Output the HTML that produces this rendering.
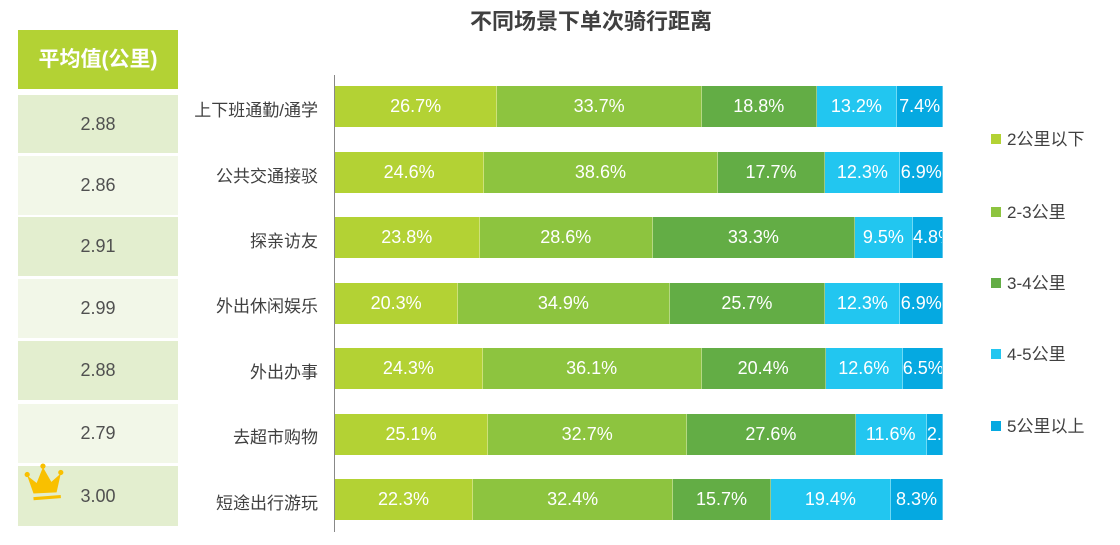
<!DOCTYPE html>
<html><head><meta charset="utf-8"><style>
body{margin:0;width:1120px;height:545px;background:#fff;position:relative;font-family:"Liberation Sans","Noto Sans CJK SC",sans-serif;overflow:hidden}
.t{position:absolute;left:0;width:1120px;top:4px;text-align:center;font-size:22px;font-weight:bold;color:#404040;padding-left:62px;box-sizing:border-box}
.h{position:absolute;left:18px;top:30px;width:160px;height:59px;background:#b3d234;color:#fff;font-weight:bold;font-size:21px;line-height:59px;text-align:center}
.c{position:absolute;left:18px;width:160px;text-align:center;font-size:18px;color:#505050}
.lab{position:absolute;right:802px;font-size:17px;color:#404040;white-space:nowrap}
.bar{position:absolute;left:335px;width:608px;height:41px;display:flex}
.bar div{overflow:hidden;white-space:nowrap;text-align:center;color:#fff;font-size:18px;line-height:41px;border-right:1px solid rgba(255,255,255,.35);box-sizing:border-box}
.a{background:#b3d234}.b{background:#8dc43f}.d{background:#63ad45}.e{background:#22c6f0}.f{background:#05a9e1}
.ax{position:absolute;left:334px;top:75px;width:1px;height:457px;background:#888}
.lg{position:absolute;left:991px;font-size:17px;color:#404040;white-space:nowrap}
.lg i{display:inline-block;width:10px;height:10px;margin-right:6px;vertical-align:1px}
</style></head><body>
<div class="t">不同场景下单次骑行距离</div>
<div class="h">平均值(公里)</div>
<div class="c" style="top:95px;height:58px;line-height:58px;background:#e3eecf">2.88</div>
<div class="c" style="top:156px;height:59px;line-height:59px;background:#f2f7e8">2.86</div>
<div class="c" style="top:217px;height:59px;line-height:59px;background:#e3eecf">2.91</div>
<div class="c" style="top:279px;height:59px;line-height:59px;background:#f2f7e8">2.99</div>
<div class="c" style="top:341px;height:59px;line-height:59px;background:#e3eecf">2.88</div>
<div class="c" style="top:404px;height:59px;line-height:59px;background:#f2f7e8">2.79</div>
<div class="c" style="top:466px;height:60px;line-height:60px;background:#e3eecf">3.00</div>
<svg style="position:absolute;left:24px;top:463px" width="40" height="42" viewBox="0 0 38 40"><path d="M3 12 L9 29 L31 28 L35 10 L26 18 L18 4 L12 19 Z" fill="#f9c000"/><circle cx="3" cy="11" r="2.5" fill="#f9c000"/><circle cx="18" cy="3" r="2.5" fill="#f9c000"/><circle cx="35" cy="9" r="2.5" fill="#f9c000"/><path d="M9 34 L35 32" stroke="#f9c000" stroke-width="3"/></svg>
<div class="ax"></div>
<div class="lab" style="top:96px">上下班通勤/通学</div>
<div class="lab" style="top:162px">公共交通接驳</div>
<div class="lab" style="top:227px">探亲访友</div>
<div class="lab" style="top:292px">外出休闲娱乐</div>
<div class="lab" style="top:358px">外出办事</div>
<div class="lab" style="top:423px">去超市购物</div>
<div class="lab" style="top:489px">短途出行游玩</div>
<div class="bar" style="top:86px"><div class="a" style="flex:26.7">26.7%</div><div class="b" style="flex:33.7">33.7%</div><div class="d" style="flex:18.8">18.8%</div><div class="e" style="flex:13.2">13.2%</div><div class="f" style="flex:7.4">7.4%</div></div>
<div class="bar" style="top:152px"><div class="a" style="flex:24.6">24.6%</div><div class="b" style="flex:38.6">38.6%</div><div class="d" style="flex:17.7">17.7%</div><div class="e" style="flex:12.3">12.3%</div><div class="f" style="flex:6.9">6.9%</div></div>
<div class="bar" style="top:217px"><div class="a" style="flex:23.8">23.8%</div><div class="b" style="flex:28.6">28.6%</div><div class="d" style="flex:33.3">33.3%</div><div class="e" style="flex:9.5">9.5%</div><div class="f" style="flex:4.8">4.8%</div></div>
<div class="bar" style="top:283px"><div class="a" style="flex:20.3">20.3%</div><div class="b" style="flex:34.9">34.9%</div><div class="d" style="flex:25.7">25.7%</div><div class="e" style="flex:12.3">12.3%</div><div class="f" style="flex:6.9">6.9%</div></div>
<div class="bar" style="top:348px"><div class="a" style="flex:24.3">24.3%</div><div class="b" style="flex:36.1">36.1%</div><div class="d" style="flex:20.4">20.4%</div><div class="e" style="flex:12.6">12.6%</div><div class="f" style="flex:6.5">6.5%</div></div>
<div class="bar" style="top:414px"><div class="a" style="flex:25.1">25.1%</div><div class="b" style="flex:32.7">32.7%</div><div class="d" style="flex:27.6">27.6%</div><div class="e" style="flex:11.6">11.6%</div><div class="f" style="flex:2.5">2.5%</div></div>
<div class="bar" style="top:479px"><div class="a" style="flex:22.3">22.3%</div><div class="b" style="flex:32.4">32.4%</div><div class="d" style="flex:15.7">15.7%</div><div class="e" style="flex:19.4">19.4%</div><div class="f" style="flex:8.3">8.3%</div></div>
<div class="lg" style="top:125px"><i class="a"></i>2公里以下</div>
<div class="lg" style="top:198px"><i class="b"></i>2-3公里</div>
<div class="lg" style="top:269px"><i class="d"></i>3-4公里</div>
<div class="lg" style="top:340px"><i class="e"></i>4-5公里</div>
<div class="lg" style="top:412px"><i class="f"></i>5公里以上</div>
</body></html>
